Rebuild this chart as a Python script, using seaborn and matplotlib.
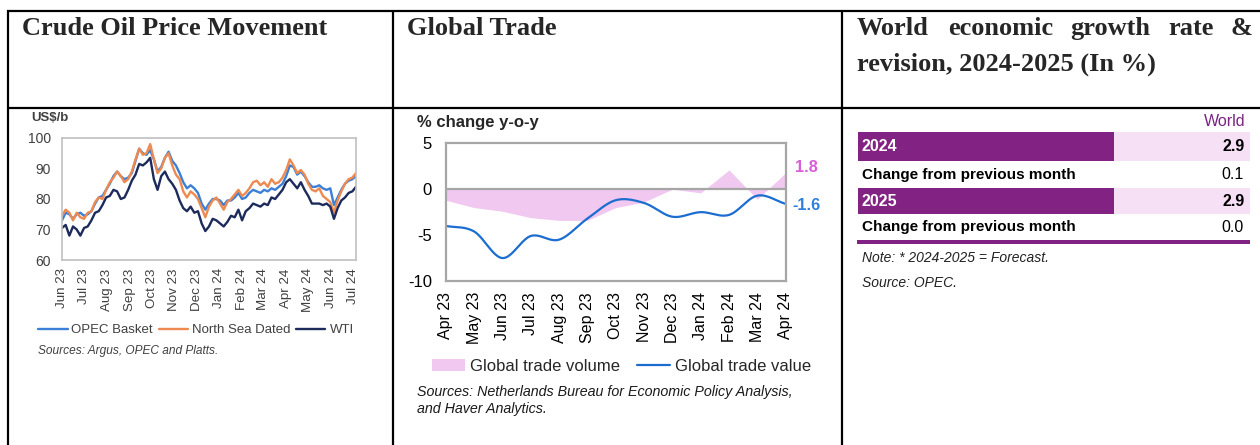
import numpy as np
import pandas as pd
import matplotlib
matplotlib.use('Agg')
import matplotlib.pyplot as plt
from matplotlib.patches import Patch, Rectangle
from matplotlib.lines import Line2D
import seaborn as sns

# ---- data ----
# crude oil, US$/b, one reading every 5 days from 1 Jun 2023
oil_dates = pd.date_range('2023-06-01', periods=81, freq='5D')
opec_basket = [73.0, 75.5, 75.0, 73.5, 75.0, 75.5, 74.5, 75.0, 76.0, 78.5,
               80.5, 81.0, 83.0, 85.0, 87.5, 89.0, 87.5, 86.5, 87.0, 88.5,
               92.5, 96.5, 95.0, 94.5, 96.0, 93.0, 89.0, 90.5, 93.5, 95.5,
               92.5, 91.0, 88.5, 85.5, 83.5, 84.5, 83.5, 82.0, 78.5, 76.5,
               78.5, 80.0, 80.0, 79.5, 78.0, 79.5, 79.5, 80.5, 82.0, 80.0,
               80.5, 82.0, 83.0, 82.5, 82.0, 83.0, 82.5, 83.5, 83.0, 84.0,
               85.0, 87.5, 91.0, 90.5, 88.0, 89.0, 87.5, 85.5, 84.0, 84.0,
               84.5, 83.5, 83.0, 83.5, 78.0, 80.5, 83.0, 85.0, 86.0, 86.5,
               87.5]
north_sea_dated = [74.5, 76.5, 75.5, 73.0, 75.5, 74.0, 73.5, 75.5, 76.0, 79.0,
                   80.5, 80.0, 83.0, 85.5, 87.0, 89.0, 87.5, 85.5, 86.5, 89.0,
                   93.0, 96.5, 94.5, 95.0, 98.0, 93.0, 88.5, 90.0, 93.5, 95.0,
                   91.0, 88.0, 86.5, 82.5, 80.5, 82.5, 81.5, 80.0, 77.0, 74.0,
                   77.5, 79.5, 80.5, 78.5, 76.5, 79.0, 80.0, 81.5, 83.0, 81.0,
                   82.0, 83.5, 85.5, 86.0, 84.5, 85.5, 84.0, 86.5, 85.0, 85.5,
                   87.0, 89.5, 93.0, 91.0, 88.5, 89.5, 88.0, 85.0, 83.0, 82.5,
                   83.5, 81.0, 80.0, 79.0, 75.5, 79.5, 82.5, 85.0, 86.5, 87.0,
                   88.5]
wti = [70.5, 71.5, 68.0, 71.0, 70.0, 68.0, 70.5, 71.0, 73.0, 75.5,
       76.0, 78.0, 80.5, 81.0, 83.0, 82.5, 80.0, 80.5, 83.0, 86.0,
       88.0, 91.5, 91.0, 92.0, 93.5, 86.5, 83.0, 87.5, 89.0, 86.5,
       85.0, 83.0, 79.5, 77.0, 76.0, 77.5, 75.5, 76.0, 72.0, 69.5,
       71.0, 73.5, 73.0, 72.0, 71.0, 72.5, 74.5, 74.0, 76.5, 73.0,
       76.0, 77.0, 78.5, 78.0, 77.5, 78.5, 78.0, 80.5, 80.0, 81.5,
       83.0, 85.5, 86.5, 85.0, 83.5, 85.5, 83.0, 81.0, 78.5, 78.5,
       78.5, 78.0, 78.5, 77.5, 73.5, 77.0, 79.5, 80.5, 82.0, 82.5,
       84.0]

# global trade, % change y-o-y
trade_months = ['Apr 23', 'May 23', 'Jun 23', 'Jul 23', 'Aug 23', 'Sep 23', 'Oct 23',
                'Nov 23', 'Dec 23', 'Jan 24', 'Feb 24', 'Mar 24', 'Apr 24']
trade_volume = [-1.2, -2.0, -2.4, -3.1, -3.4, -3.4, -2.0, -1.4, 0.0, -0.4, 2.1, -1.1, 1.8]
trade_value = [-4.0, -4.6, -7.5, -5.1, -5.5, -3.2, -1.2, -1.5, -3.0, -2.5, -2.8, -0.7, -1.6]

# world economic growth table
growth_rows = ['2024', 'Change from previous month', '2025', 'Change from previous month']
growth_world = [2.9, 0.1, 2.9, 0.0]

# ---- style ----
W, H = 1260, 445
sns.set_theme(style='white')
plt.rcParams['font.family'] = ['Liberation Sans', 'DejaVu Sans']
SERIF = ['Liberation Serif', 'DejaVu Serif']
oil_colors = {'OPEC Basket': '#3b80d6', 'North Sea Dated': '#ee8a50', 'WTI': '#1c2b5c'}
PINK = '#f0c8f0'
BLUE = '#1c6dd0'
PURPLE = '#822282'
LIGHT = '#f6e0f6'
GREY_TXT = '#404040'


def px_axes(fig, l, t, r, b):
    return fig.add_axes([l / W, 1 - b / H, (r - l) / W, (b - t) / H])


def smooth(vals, n=24):
    # catmull-rom curve through the monthly values (Excel style smoothed line)
    p = np.asarray(vals, float)
    pp = np.concatenate([[2 * p[0] - p[1]], p, [2 * p[-1] - p[-2]]])
    xs, ys = [], []
    t = np.linspace(0, 1, n, endpoint=False)
    for i in range(len(p) - 1):
        p0, p1, p2, p3 = pp[i:i + 4]
        ys.append(0.5 * (2 * p1 + (-p0 + p2) * t + (2 * p0 - 5 * p1 + 4 * p2 - p3) * t ** 2
                         + (-p0 + 3 * p1 - 3 * p2 + p3) * t ** 3))
        xs.append(i + t)
    xs.append([len(p) - 1])
    ys.append([p[-1]])
    return np.concatenate(xs), np.concatenate(ys)


fig = plt.figure(figsize=(W / 100, H / 100), dpi=100)

# page / table frame
bg = fig.add_axes([0, 0, 1, 1])
bg.set_xlim(0, W)
bg.set_ylim(H, 0)
bg.axis('off')
for y in (11, 108):
    bg.plot([7, W], [y, y], color='black', lw=1.6, solid_capstyle='butt')
for x in (8, 393, 842):
    bg.plot([x, x], [10, H], color='black', lw=1.6, solid_capstyle='butt')

bg.text(22, 35, 'Crude Oil Price Movement', family=SERIF, weight='bold', fontsize=19, va='baseline')
bg.text(407, 35, 'Global Trade', family=SERIF, weight='bold', fontsize=19, va='baseline')
for word, x in zip(['World', 'economic', 'growth', 'rate', '&'], [857, 948, 1070, 1168, 1230]):
    bg.text(x, 35, word, family=SERIF, weight='bold', fontsize=19, va='baseline')
bg.text(857, 71, 'revision, 2024-2025 (In %)', family=SERIF, weight='bold', fontsize=19, va='baseline')

# ---- crude oil chart ----
oil_df = pd.DataFrame({'date': oil_dates, 'OPEC Basket': opec_basket,
                       'North Sea Dated': north_sea_dated, 'WTI': wti})
oil_long = oil_df.melt('date', var_name='series', value_name='price')
ax1 = px_axes(fig, 62, 138, 356, 260)
sns.lineplot(data=oil_long, x='date', y='price', hue='series', palette=oil_colors,
             hue_order=list(oil_colors), linewidth=1.7, ax=ax1)
ax1.set_xlim(oil_dates[0], oil_dates[-1])
ax1.set_ylim(60, 100)
ax1.set_yticks([60, 70, 80, 90, 100])
month_ticks = pd.date_range('2023-06-01', '2024-07-01', freq='MS')
ax1.set_xticks(month_ticks)
ax1.set_xticklabels([d.strftime('%b %y') for d in month_ticks], rotation=90)
ax1.tick_params(axis='x', length=0, pad=6, labelsize=9.6, labelcolor=GREY_TXT)
ax1.tick_params(axis='y', length=0, pad=8, labelsize=10, labelcolor=GREY_TXT)
ax1.set_xlabel('')
ax1.set_ylabel('')
for s in ax1.spines.values():
    s.set_color('#c0c0c0')
    s.set_linewidth(1.2)
sns.move_legend(ax1, 'center left', bbox_to_anchor=(-0.08, -0.575), ncol=3, frameon=False,
                title=None, fontsize=9.5, handlelength=2.2, handletextpad=0.3,
                columnspacing=0.45, borderpad=0, borderaxespad=0, labelcolor=GREY_TXT)
bg.text(31, 118, 'US$/b', weight='bold', fontsize=9.5, color=GREY_TXT, va='center')
bg.text(38, 351, 'Sources: Argus, OPEC and Platts.', style='italic', fontsize=8.6,
        color=GREY_TXT, va='center')

# ---- global trade chart ----
ax2 = px_axes(fig, 445.7, 143.3, 785.7, 281)
pos = np.arange(len(trade_months))
ax2.fill_between(pos, 0, trade_volume, color=PINK, lw=0, zorder=1)
sx, sy = smooth(trade_value)
sns.lineplot(x=sx, y=sy, sort=False, estimator=None, color=BLUE, linewidth=1.6, ax=ax2, zorder=2)
ax2.axhline(0, color='#a6a6a6', lw=1.6, zorder=3)
ax2.set_xlim(0, len(trade_months) - 1)
ax2.set_ylim(-10, 5)
ax2.set_yticks([-10, -5, 0, 5])
ax2.set_yticklabels(['-10', '-5', '0', '5'])
ax2.set_xticks(pos)
ax2.set_xticklabels(trade_months, rotation=90)
ax2.tick_params(axis='x', length=0, pad=8, labelsize=11.5, labelcolor='black')
ax2.tick_params(axis='y', length=0, pad=10, labelsize=12, labelcolor='black')
for s in ax2.spines.values():
    s.set_color('#a6a6a6')
    s.set_linewidth(1.6)
ax2.annotate(f'{trade_volume[-1]:.1f}', (pos[-1], trade_volume[-1]), xytext=(7, 3.5),
             textcoords='offset points', color='#d95cd9', weight='bold', fontsize=11.7,
             va='center', ha='left', annotation_clip=False)
ax2.annotate(f'{trade_value[-1]:.1f}', (pos[-1], trade_value[-1]), xytext=(4.5, -1.5),
             textcoords='offset points', color='#2e7de0', weight='bold', fontsize=11.7,
             va='center', ha='left', annotation_clip=False)
handles = [Patch(facecolor=PINK, edgecolor='none'), Line2D([], [], color=BLUE, lw=1.6)]
ax2.legend(handles, ['Global trade volume', 'Global trade value'], loc='center left',
           bbox_to_anchor=(-0.04, -0.62), ncol=2, frameon=False, fontsize=12,
           handlelength=2.0, handletextpad=0.3, columnspacing=1.0, borderpad=0, borderaxespad=0)
bg.text(417, 123, '% change y-o-y', weight='bold', fontsize=12, va='center')
bg.text(417, 392, 'Sources: Netherlands Bureau for Economic Policy Analysis,', style='italic',
        fontsize=10.3, color='#1a1a1a', va='center')
bg.text(417, 408.5, 'and Haver Analytics.', style='italic', fontsize=10.3, color='#1a1a1a', va='center')

# ---- growth table ----
bg.text(1246, 121, 'World', color='#7b2383', fontsize=11.5, ha='right', va='center')
row_top = [131.7, 161, 188.3, 214.5]
row_h = [29, 27, 26, 25]
for label, val, top, h in zip(growth_rows, growth_world, row_top, row_h):
    mid = top + h / 2
    if label.isdigit():
        bg.add_patch(Rectangle((858, top), 256, h, color=PURPLE, lw=0))
        bg.add_patch(Rectangle((1114, top), 136, h, color=LIGHT, lw=0))
        bg.text(862, mid, label, color='white', weight='bold', fontsize=11.5, va='center')
        bg.text(1245, mid, f'{val:.1f}', color='black', weight='bold', fontsize=11.5,
                ha='right', va='center')
    else:
        bg.text(862, mid, label, color='black', weight='bold', fontsize=11, va='center')
        bg.text(1244, mid, f'{val:.1f}', color='black', fontsize=11.5, ha='right', va='center')
bg.add_patch(Rectangle((857, 239.5), 393, 4.5, color=PURPLE, lw=0))
bg.text(862, 258, 'Note: * 2024-2025 = Forecast.', style='italic', fontsize=10, color='#222222', va='center')
bg.text(862, 283, 'Source: OPEC.', style='italic', fontsize=10, color='#222222', va='center')

fig.savefig('out.png', dpi=100)
